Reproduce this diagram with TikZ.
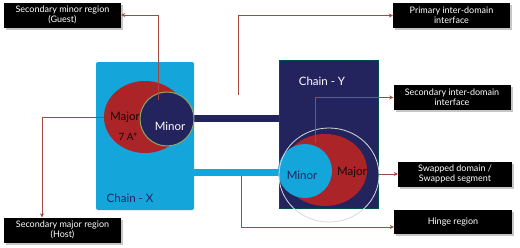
\documentclass[tikz,border=0pt]{standalone}
\usepackage{fontspec}
\setmainfont{Lato}
\usetikzlibrary{arrows.meta,shadows}
\definecolor{cyanX}{HTML}{14A5DA}
\definecolor{navyY}{HTML}{23235E}
\definecolor{redM}{HTML}{AA2428}
\definecolor{connc}{HTML}{A5483E}
\definecolor{olivec}{HTML}{8FA860}
\tikzset{
  labelbox/.style={fill=black,text=white,font=\fontsize{9}{10}\selectfont,align=center,
    minimum width=117pt,minimum height=25pt,inner sep=1pt,
    drop shadow={opacity=0.45,shadow xshift=2pt,shadow yshift=-2pt}},
  conn/.style={draw=connc,line width=0.9pt,-{Stealth[length=4pt,width=4pt]}},
  bigtxt/.style={font=\fontsize{11.5}{12}\selectfont,inner sep=0pt}
}
\begin{document}
\begin{tikzpicture}[x=1pt,y=-1pt]
\useasboundingbox (0,0) rectangle (520,247);
% bars
\fill[navyY] (190,115) rectangle (282,122);
\fill[cyanX] (190,169) rectangle (290,176);
% Chain X
\node[fill=cyanX,rounded corners=2pt,minimum width=98pt,minimum height=148pt,inner sep=0pt] (chainX) at (145,136) {};
\fill[redM] (145,117) ellipse [x radius=41,y radius=36];
\node[bigtxt,text=black!85!redM] (majX) at (125,117) {Major};
\node[circle,fill=navyY,draw=olivec,line width=1pt,minimum size=54pt,inner sep=0pt] (minorX) at (167,119) {};
\node[bigtxt,text=white] at (170,126) {Minor};
\node[bigtxt,text=black!85!redM,font=\fontsize{10}{11}\selectfont] at (128,137) {7 A*};
\node[bigtxt,text=navyY] at (130,198) {Chain - X};
% Chain Y
\node[fill=navyY,draw=teal!60!black,line width=0.4pt,minimum width=99pt,minimum height=148pt,inner sep=0pt] (chainY) at (328.5,134) {};
\fill[redM] (325,170) ellipse [x radius=42,y radius=36];
\node[circle,fill=cyanX,minimum size=54pt,inner sep=0pt] (minorY) at (305,171) {};
\node[bigtxt,text=navyY] at (302,175) {Minor};
\node[bigtxt,text=black!85!redM] at (352,172) {Major};
\node[bigtxt,text=white] at (322,81) {Chain - Y};
\draw[gray!30,line width=0.8pt] (329,175) ellipse [x radius=50,y radius=47];
\coordinate (ringE) at (379,174);
% label boxes
\node[labelbox] (guest) at (62.5,15) {Secondary minor region\\(Guest)};
\node[labelbox] (primary) at (451.5,15.5) {Primary inter-domain\\interface};
\node[labelbox] (secondary) at (452,97.5) {Secondary inter-domain\\interface};
\node[labelbox,minimum width=114pt] (swapped) at (455,174) {Swapped domain /\\Swapped segment};
\node[labelbox,minimum width=118pt,minimum height=24pt] (hinge) at (453,222) {Hinge region};
\node[labelbox] (host) at (62.5,230) {Secondary major region\\(Host)};
% connector origins
\coordinate (sA) at (158,100);
\coordinate (sB) at (238,95);
\coordinate (sC) at (315,143);
\coordinate (sD) at (104,117);
\coordinate (sF) at (241,176);
% connectors
\draw[conn] (sA) |- (guest.east);
\draw[conn] (sB) |- (primary.west);
\draw[conn] (sC) |- (secondary.west);
\draw[conn] (sD) -| ([xshift=-20.5pt]host.north);
\draw[conn] (ringE) -- (swapped.west);
\draw[conn] (sF) |- ([yshift=-5pt]hinge.west);
\end{tikzpicture}
\end{document}
